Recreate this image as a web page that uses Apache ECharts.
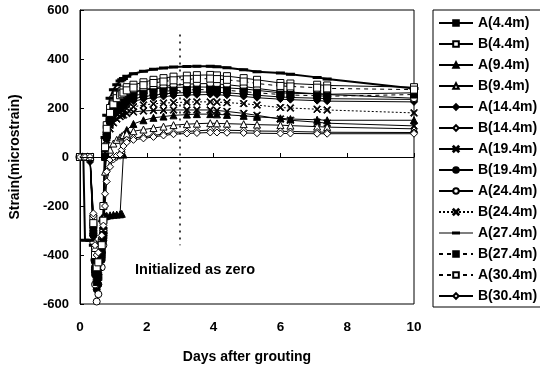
<!DOCTYPE html>
<html><head><meta charset="utf-8">
<script src="https://cdn.jsdelivr.net/npm/echarts@6/dist/echarts.min.js"></script>
<style>html,body{margin:0;padding:0;background:#fff}#c{width:540px;height:371px}</style>
</head><body><div id="c"></div>
<script>
// ---- data ----
const days = [0,0.1,0.15,0.3,0.4,0.45,0.5,0.55,0.65,0.7,0.75,0.8,0.9,1.0,1.1,1.2,1.25,1.3,1.4,1.6,1.9,2.2,2.5,2.8,3.2,3.5,3.9,4.1,4.4,4.9,5.3,6.0,6.3,7.1,7.4,10];
const seriesNames = ['A(4.4m)','B(4.4m)','A(9.4m)','B(9.4m)','A(14.4m)','B(14.4m)','A(19.4m)','B(19.4m)','A(24.4m)','B(24.4m)','A(27.4m)','B(27.4m)','A(30.4m)','B(30.4m)'];
const vA44  = [0,0,0,0,-280,-420,-470,-440,-380,-300,20,90,150,190,215,230,238,245,255,265,272,278,282,284,285,286,285,284,282,278,272,262,260,258,256,262];
const vB44  = [0,0,0,0,-250,-380,-430,-420,-350,-200,60,130,200,235,255,265,270,275,285,295,305,315,322,328,332,334,335,333,330,322,315,302,300,295,292,285];
const vA94  = [0,0,0,0,-300,-450,-500,-480,-250,-245,-242,-240,-238,-236,-235,-234,-232,10,110,135,150,160,165,170,173,175,175,174,172,168,164,158,155,152,150,150];
const vB94  = [0,0,0,0,-260,-400,-440,-420,-320,-250,-60,0,30,55,70,80,85,90,95,105,112,118,124,130,134,136,138,137,136,134,132,130,128,124,122,115];
const vA144 = [0,0,0,-20,-320,-460,-520,-480,-400,-320,0,70,130,165,185,200,205,210,218,228,236,242,247,250,253,254,255,254,252,247,242,236,234,230,228,225];
const vB144 = [0,0,0,0,-240,-380,-420,-410,-330,-300,-200,-100,-40,-10,0,5,20,50,70,78,82,88,94,100,104,107,110,110,109,108,106,105,104,102,101,100];
const vA194 = [0,0,0,0,-300,-440,-480,-460,-380,-300,10,70,115,140,155,165,170,172,178,184,188,190,191,192,192,192,192,190,186,178,170,155,150,142,138,127];
const vB194 = [0,0,0,0,-320,-480,-540,-520,-420,-340,0,80,140,175,195,210,215,220,228,238,246,252,257,261,263,265,265,264,262,257,252,245,243,240,238,235];
const vA244 = [0,0,0,0,-350,-520,-590,-560,-450,-360,10,100,160,200,220,235,240,245,255,265,275,282,288,293,297,299,300,298,295,288,280,268,265,258,255,240];
const vB244 = [0,0,0,0,-290,-430,-470,-450,-360,-280,20,80,130,160,175,185,190,193,198,205,212,217,220,222,224,225,225,224,222,218,212,202,200,195,192,180];
const vA274 = [0,0,-340,-340,-360,-420,-450,-430,-350,-250,80,170,240,275,295,310,315,320,330,340,350,358,363,367,369,370,370,368,364,356,348,343,338,325,318,280];
const vB274 = [0,0,0,0,-310,-460,-510,-490,-400,-320,0,90,150,185,205,220,225,230,240,250,258,264,268,271,273,275,275,274,272,267,262,255,253,250,248,255];
const vA304 = [0,0,0,0,-270,-400,-450,-430,-360,-260,40,115,180,215,240,252,258,263,272,283,293,302,308,313,317,319,320,318,315,308,300,290,288,283,280,275];
const vB304 = [0,0,0,0,-230,-360,-400,-390,-320,-280,-150,-60,-10,0,5,10,30,45,60,70,76,82,88,93,96,98,100,100,99,98,97,96,96,95,95,95];
const allValues = [vA44,vB44,vA94,vB94,vA144,vB144,vA194,vB194,vA244,vB244,vA274,vB274,vA304,vB304];
const xTickLabels = [0,2,4,6,8,10];
const yTickLabels = [-600,-400,-200,0,200,400,600];
const initDay = 3;                 // dotted "initialized as zero" line
const initLineRange = [500,-360];
const noteText = 'Initialized as zero';

// ---- styles ----
const XPATH = 'path://M0,1L1,0L5,4L9,0L10,1L6,5L10,9L9,10L5,6L1,10L0,9L4,5Z';
const DASHICON = 'path://M0,3H34V4H0Z M13,2H21V5H13Z M0,0H0.05V0.05H0Z M0,6.95H0.05V7H0Z';
const FILLED = {color:'#000', borderColor:'#000', borderWidth:1};
const OPEN = {color:'#fff', borderColor:'#000', borderWidth:1};
const styles = [
  {symbol:'rect', item:FILLED, line:'solid'},
  {symbol:'rect', item:OPEN, line:'solid'},
  {symbol:'triangle', item:FILLED, line:'solid'},
  {symbol:'triangle', item:OPEN, line:'solid'},
  {symbol:'diamond', item:FILLED, line:'solid'},
  {symbol:'diamond', item:OPEN, line:'solid'},
  {symbol:XPATH, item:FILLED, line:'solid'},
  {symbol:'circle', item:FILLED, line:'solid'},
  {symbol:'circle', item:OPEN, line:'solid'},
  {symbol:XPATH, item:FILLED, line:[2,2]},
  {symbol:'rect', item:FILLED, line:'solid', size:[6,2], width:2, legendIcon:DASHICON},
  {symbol:'rect', item:FILLED, line:[4,4]},
  {symbol:'rect', item:OPEN, line:[4,4]},
  {symbol:'diamond', item:OPEN, line:'solid'}
];
const FONT = "'Liberation Sans', Arial, sans-serif";

const series = seriesNames.map((name,i)=>{
  const st = styles[i];
  const s = {
    name, type:'line',
    data: days.map((d,k)=>[d, allValues[i][k]]),
    symbol: st.symbol, symbolSize: st.size || 7,
    showAllSymbol:true, connectNulls:true,
    itemStyle: st.item,
    lineStyle: {color:'#000', width: st.width || 1, type: st.line},
    z: 2
  };
  if (i === 0) {
    s.markLine = {
      silent:true, symbol:'none', label:{show:false}, animation:false,
      data: [
        {yAxis:0, lineStyle:{color:'#000', width:1, type:'solid'}},
        [{coord:[initDay, initLineRange[0]], lineStyle:{color:'#000', width:1.5, type:[2,5]}},
         {coord:[initDay, initLineRange[1]]}]
      ]
    };
  }
  return s;
});

const legendData = seriesNames.map((name,i)=> styles[i].legendIcon ? {name, icon:styles[i].legendIcon, itemStyle:{borderWidth:0}} : {name});

const chart = echarts.init(document.getElementById('c'), null, {renderer:'canvas'});
chart.setOption({
  animation:false,
  backgroundColor:'#fff',
  grid:{left:79, right:126, top:10, bottom:67, show:true, borderColor:'#000', borderWidth:1, containLabel:false},
  xAxis:{
    type:'value', min:xTickLabels[0], max:xTickLabels[xTickLabels.length-1], interval:2,
    name:'Days after grouting', nameLocation:'middle', nameGap:46,
    nameTextStyle:{fontFamily:FONT, fontWeight:'bold', fontSize:14, color:'#000'},
    axisLine:{lineStyle:{color:'#000'}},
    axisTick:{inside:true, length:4, lineStyle:{color:'#000'}},
    axisLabel:{fontFamily:FONT, fontWeight:'bold', fontSize:13.5, color:'#000', margin:16},
    splitLine:{show:false}
  },
  yAxis:{
    type:'value', min:yTickLabels[0], max:yTickLabels[yTickLabels.length-1], interval:200,
    name:'Strain(microstrain)', nameLocation:'middle', nameGap:58, nameRotate:90,
    nameTextStyle:{fontFamily:FONT, fontWeight:'bold', fontSize:14, color:'#000'},
    axisLine:{show:true, onZero:false, lineStyle:{color:'#000'}},
    axisTick:{show:true, inside:true, length:4, lineStyle:{color:'#000'}},
    axisLabel:{fontFamily:FONT, fontWeight:'bold', fontSize:13, color:'#000', margin:11},
    splitLine:{show:false}
  },
  legend:{
    orient:'vertical', left:433, top:10,
    padding:[6,30,4,5], borderColor:'#000', borderWidth:1,
    itemWidth:34, itemHeight:7, itemGap:7,
    textStyle:{fontFamily:FONT, fontWeight:'bold', fontSize:14, color:'#000', lineHeight:14},
    data: legendData
  },
  graphic:[{
    type:'text', left:135, top:262,
    style:{text:noteText, font:"bold 14.5px 'Liberation Sans', Arial, sans-serif", fill:'#000'}
  }],
  series
});
</script></body></html>
